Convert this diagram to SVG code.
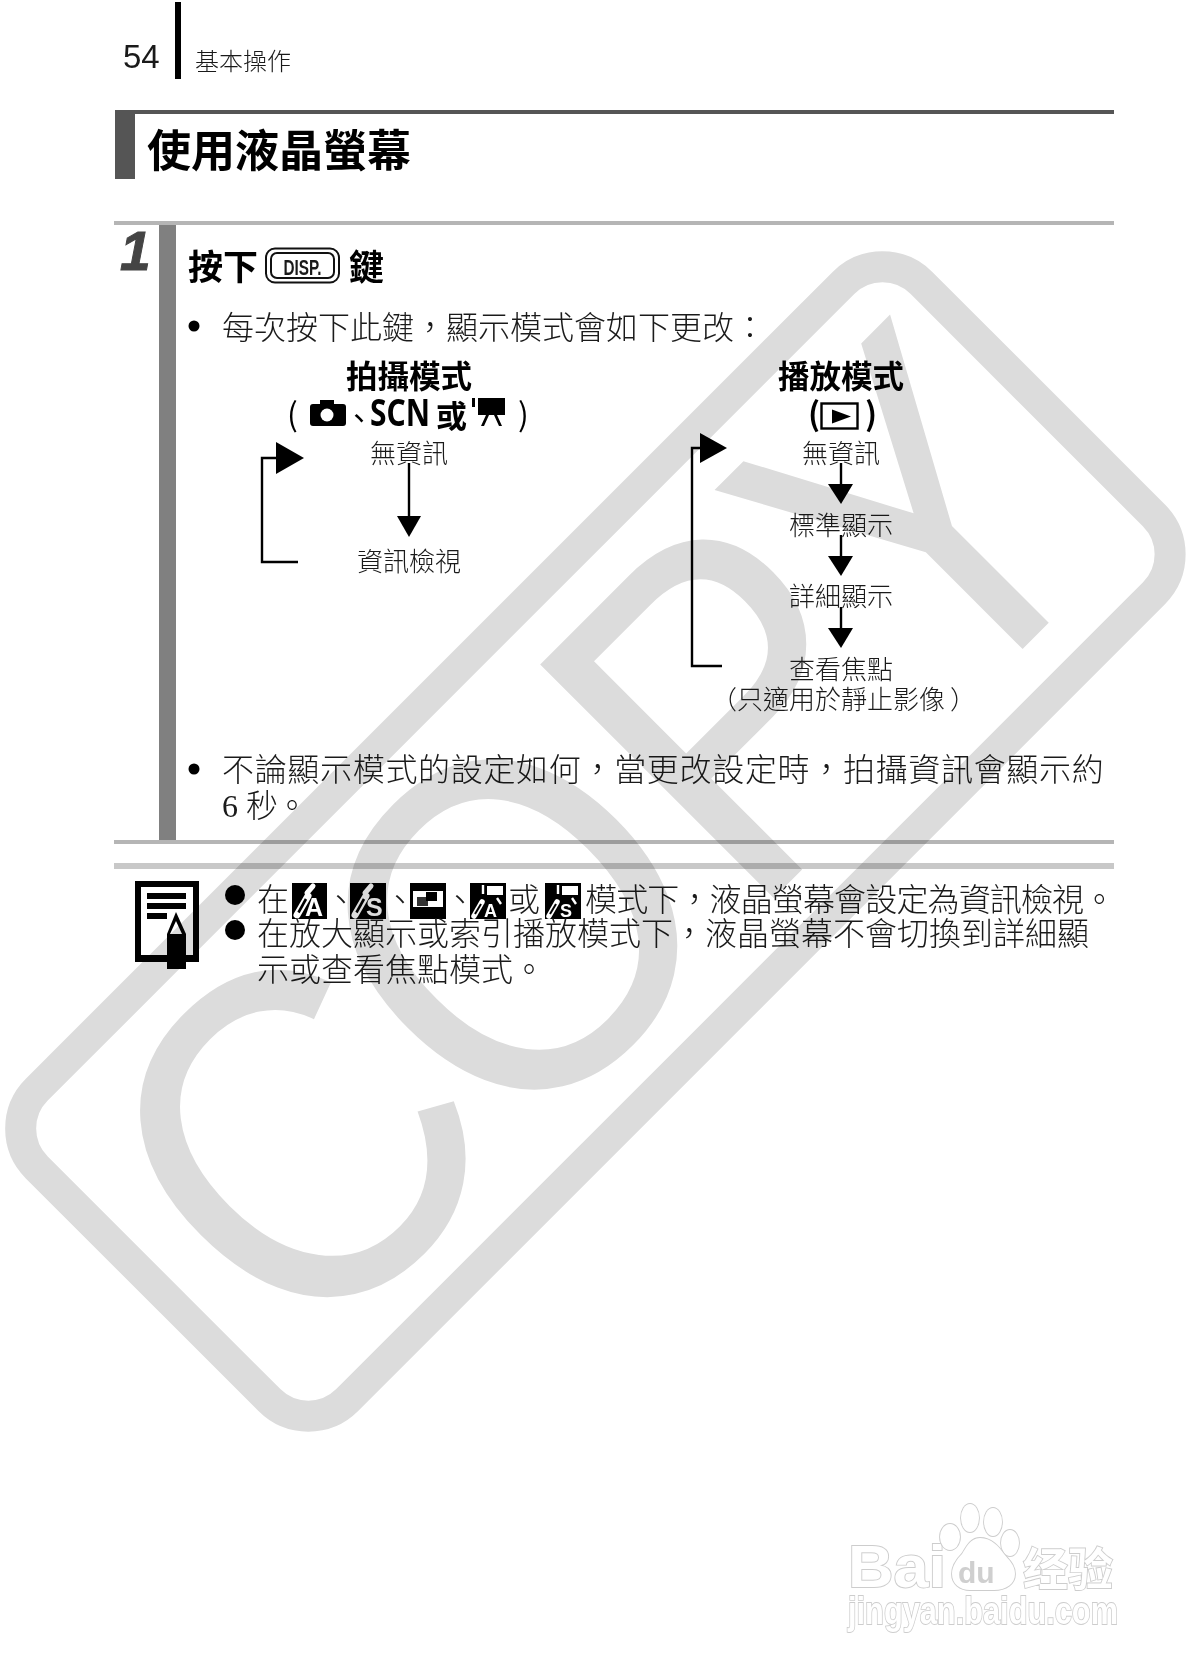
<svg xmlns="http://www.w3.org/2000/svg" xmlns:xlink="http://www.w3.org/1999/xlink" width="1192" height="1680" viewBox="0 0 1192 1680">
<style>
text{font-family:"Noto Sans CJK TC","Liberation Sans",sans-serif;fill:#1a1a1a}
.b{font-size:32px;font-weight:300}
.s{font-size:26px;font-weight:300}
.h{font-size:31.500px;font-weight:700;fill:#000}
.k{fill:#000}
.m{text-anchor:middle}
.lat{font-family:"Liberation Sans",sans-serif}
.w{fill:#fff}
.r1{fill:#b5b5b5}
.blk{fill:#000}
.wht{fill:#fff}
.ln{fill:none;stroke:#000;stroke-width:2.4}
.wm{fill:#dcdcdc;font-family:"Liberation Sans",sans-serif;font-size:480px}
.logo{fill:#fff;stroke:#cdcdcd;stroke-width:1.800;paint-order:stroke;font-family:"Liberation Sans",sans-serif;font-weight:700}
</style>
<defs>
<filter id="bl" x="-5%" y="-5%" width="110%" height="110%"><feGaussianBlur stdDeviation=".7"/></filter>
<g id="dropper"><path d="M5 32 L16 13" stroke="#fff" stroke-width="7" stroke-linecap="round"/><path d="M6.500 29.500 L14 16" stroke="#000" stroke-width="2.600"/><path d="M15 10 L21 3" stroke="#fff" stroke-width="5" stroke-linecap="round"/></g>
<g id="proj"><rect width="36" height="36" class="blk"/><path d="M17 3h16v9H17z" class="wht"/><path d="M13 2v9M27 15l4 6" stroke="#fff" stroke-width="2.400"/><path d="M4 33 L12 19" stroke="#fff" stroke-width="5.500" stroke-linecap="round"/><path d="M5 31 L11 21" stroke="#000" stroke-width="2"/></g>
</defs>
<rect width="1192" height="1680" fill="#fff"/>

<g id="header">
<text x="123" y="68" class="lat" font-size="33">54</text>
<rect x="175" y="2" width="6" height="77" class="blk"/>
<text x="195" y="70" font-size="24" font-weight="300">基本操作</text>
</g>

<g id="section-title">
<rect x="115" y="110" width="999" height="4" fill="#555"/>
<rect x="115" y="110" width="20" height="69" fill="#555"/>
<text x="147" y="167" font-size="44" font-weight="700" class="k">使用液晶螢幕</text>
</g>

<g id="step-frame">
<rect x="114" y="221" width="1000" height="4" class="r1"/>
<rect x="159" y="225" width="17" height="616" fill="#808080"/>
<rect x="114" y="840" width="1000" height="4" class="r1"/>
<text x="120" y="270" class="lat" font-size="55" font-weight="700" font-style="italic" style="fill:#444;stroke:#444;stroke-width:1">1</text>
</g>

<g id="step-heading">
<text x="188" y="280" font-size="35" font-weight="700" class="k">按下</text>
<rect x="266" y="248.500" width="73" height="34" rx="9" fill="none" stroke="#111" stroke-width="2"/>
<rect x="271" y="253" width="63" height="25" rx="6" fill="none" stroke="#111" stroke-width="2"/>
<text x="302.500" y="275" class="lat m" font-size="22" font-weight="700" textLength="38" lengthAdjust="spacingAndGlyphs">DISP.</text>
<text x="349" y="280" font-size="35" font-weight="700" class="k">鍵</text>
</g>

<g id="bullet-1">
<circle cx="194" cy="326" r="5.500" class="blk"/>
<text x="222" y="339" class="b">每次按下此鍵，顯示模式會如下更改：</text>
</g>

<g id="shooting-head">
<text x="409" y="388" class="h m">拍攝模式</text>
<text x="287" y="426" font-size="32" class="k">(</text>
<g id="camera-icon"><rect x="310" y="404" width="36" height="22" rx="3" class="blk"/><rect x="320" y="400" width="14" height="6" class="blk"/><circle cx="327" cy="415" r="6.500" class="wht"/></g>
<text x="344" y="429" font-size="30" class="k">、</text>
<text x="370" y="426" font-size="38" font-weight="700" textLength="60" lengthAdjust="spacingAndGlyphs" class="k" style="font-family:'Noto Sans',sans-serif">SCN</text>
<text x="436" y="427" font-size="31" font-weight="700" class="k">或</text>
<g id="movie-icon"><rect x="478" y="398" width="27" height="17" class="blk"/><rect x="472" y="398" width="3" height="9" class="blk"/><path d="M486 415l-5 11h3l5-11zM497 415l5 11h-3l-5-11z" class="blk"/></g>
<text x="518" y="426" font-size="32" class="k">)</text>
</g>

<g id="play-head">
<text x="841" y="388" class="h m">播放模式</text>
<text x="808" y="426" font-size="32" font-weight="700" class="k">(</text>
<rect x="821.500" y="403.500" width="36" height="25" fill="none" stroke="#000" stroke-width="2.400"/>
<path d="M832 409.500v14l19-7z" class="blk"/>
<text x="865" y="426" font-size="32" font-weight="700" class="k">)</text>
</g>

<g id="node-a1"><text x="409" y="463" class="s m">無資訊</text></g>
<g id="node-a2"><text x="409" y="571" class="s m">資訊檢視</text></g>
<g id="node-b1"><text x="841" y="463" class="s m">無資訊</text></g>
<g id="node-b2"><text x="841" y="535" class="s m">標準顯示</text></g>
<g id="node-b3"><text x="841" y="606" class="s m">詳細顯示</text></g>
<g id="node-b4"><text x="841" y="679" class="s m">查看焦點</text></g>
<g id="node-b4-note"><text x="843.500" y="709" class="s m">（只適用於靜止影像<tspan dx="5">）</tspan></text></g>

<g id="connectors">
<path class="ln" d="M409 463V517"/><path class="blk" d="M397 516h24l-12 21z"/>
<path class="ln" d="M298 562H262V458H278"/><path class="blk" d="M276 442v32l28-16z"/>
<path class="ln" d="M841 463V485"/><path class="blk" d="M828 484h25l-12 20z"/>
<path class="ln" d="M841 535V557"/><path class="blk" d="M828 556h25l-12 20z"/>
<path class="ln" d="M841 607V629"/><path class="blk" d="M828 628h25l-12 20z"/>
<path class="ln" d="M722 666H692V448H702"/><path class="blk" d="M700 433v30l27-15z"/>
</g>

<g id="bullet-2">
<circle cx="194" cy="769" r="5.500" class="blk"/>
<text x="222" y="781" class="b" style="letter-spacing:.68px">不論顯示模式的設定如何，當更改設定時，拍攝資訊會顯示約</text>
<text x="222" y="817" class="b"><tspan style="font-family:'Liberation Serif',serif">6</tspan><tspan x="246">秒</tspan><tspan x="276">。</tspan></text>
</g>

<g id="note">
<rect x="114" y="863" width="1000" height="6" fill="#c8c8c8"/>
<g id="note-icon">
<path d="M135 881h64v81h-64zM141 887v68h52v-68z" class="blk" fill-rule="evenodd"/>
<path d="M147 893h39v6h-39zM147 903h39v6h-39zM147 913h20v6h-20z" class="blk"/>
<path d="M176 912l10 22v35h-19v-35z" class="blk"/><path d="M176 921l-6 13h12z" class="wht"/>
</g>
<circle cx="235" cy="895" r="10" class="blk"/>
<circle cx="235" cy="930" r="10" class="blk"/>
<text x="257" y="911" class="b">在</text>
<g id="icon-av" transform="translate(292 883)"><rect width="35" height="36" class="blk"/><use xlink:href="#dropper"/><text x="13" y="33" class="lat w" font-size="25" font-weight="700">A</text></g>
<text x="325" y="911" class="b">、</text>
<g id="icon-tv" transform="translate(350 883)"><rect width="36" height="36" class="blk"/><use xlink:href="#dropper"/><text x="16" y="33" class="lat w" font-size="25" font-weight="700">S</text></g>
<text x="384" y="911" class="b">、</text>
<g id="icon-stitch" transform="translate(410 883)"><rect width="36" height="36" class="blk"/><rect x="3" y="8" width="30" height="16" class="wht"/><rect x="7" y="14" width="11" height="9" fill="#333"/><rect x="16" y="9" width="11" height="9" class="blk"/></g>
<text x="444" y="911" class="b">、</text>
<g id="icon-pa" transform="translate(470 883)"><use xlink:href="#proj"/><text x="14" y="34" class="lat w" font-size="18" font-weight="700">A</text></g>
<text x="508" y="911" class="b">或</text>
<g id="icon-ps" transform="translate(545 883)"><use xlink:href="#proj"/><text x="15" y="34" class="lat w" font-size="18" font-weight="700">S</text></g>
<text x="585" y="911" class="b" style="letter-spacing:-.86px">模式下，液晶螢幕會設定為資訊檢視。</text>
<text x="257" y="945" class="b">在放大顯示或索引播放模式下，液晶螢幕不會切換到詳細顯</text>
<text x="257" y="981" class="b">示或查看焦點模式。</text>
</g>

<g id="baidu-logo" filter="url(#bl)">
<text x="848" y="1587" class="logo" font-size="60" textLength="98" lengthAdjust="spacingAndGlyphs">Bai</text>
<ellipse cx="950" cy="1537" rx="10" ry="13" class="logo"/>
<ellipse cx="970" cy="1518" rx="9" ry="14" class="logo"/>
<ellipse cx="993" cy="1522" rx="9" ry="14" class="logo"/>
<ellipse cx="1010" cy="1543" rx="9" ry="13" class="logo"/>
<path d="M980 1538c-10 0-14 10-18 16-5 5-10 12-10 20 0 10 8 16 18 16h24c12 0 21-6 21-16 0-9-6-14-11-20-5-7-12-16-24-16z" class="logo"/>
<text x="958" y="1583" font-size="30" font-weight="700" style="font-family:'Liberation Sans',sans-serif;fill:#cfcfcf">du</text>
<text x="1023" y="1586" class="logo" font-size="45" style="font-family:'Noto Sans CJK SC',sans-serif">经验</text>
<text x="848" y="1624" class="logo" font-size="38" textLength="270" lengthAdjust="spacingAndGlyphs">jingyan.baidu.com</text>
</g>

<g id="copy-watermark" style="mix-blend-mode:multiply">
<g transform="rotate(-45)">
<rect x="-799.500" y="796.500" width="1251" height="439" rx="55" fill="none" stroke="#dcdcdc" stroke-width="31"/>
<g transform="translate(0 1182) scale(.9 1)">
<text class="wm" x="-837 -510 -137" y="0">COP</text>
</g>
<g transform="translate(150 1182) scale(.83 1)">
<text class="wm" x="0" y="0">Y</text>
</g>
</g>
</g>
</svg>
